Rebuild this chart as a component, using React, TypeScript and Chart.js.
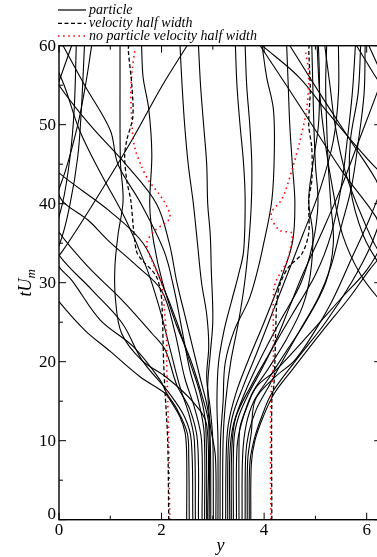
import React, { useEffect, useRef } from 'react';
import { Chart, registerables } from 'chart.js';

Chart.register(...registerables);

const PERIOD = 2 * Math.PI;
const X_MAJOR = [0, 2, 4, 6];
const X_MINOR = [1, 3, 5];
const Y_MAJOR = [0, 10, 20, 30, 40, 50, 60];
const Y_MINOR = [5, 15, 25, 35, 45, 55];
const LEGEND_LABELS = ['particle', 'velocity half width', 'no particle velocity half width'];

// particle trajectories: [tU_m, y]  (y unwrapped, periodic over 2π)
const pL1 = [[0,2.49],[8,2.49],[11,2.46],[13,2.36],[15,2.18],[16,2.07],[18.1,1.58],[21.3,1.0],[24,0.5],[27.6,0.0],[31,-0.4],[36,-0.75],[42,-0.95],[48,-1.1],[54,-1.2],[60,-1.25]];
const pL2 = [[0,2.54],[8,2.53],[11,2.5],[14,2.3],[16,2.1],[17.7,1.97],[21.9,1.45],[25.3,0.8],[30.3,0.25],[32,0.0],[36,-0.35],[42,-0.6],[48,-0.6],[54,-0.45],[60,-0.4]];
const pL3 = [[0,2.61],[10,2.58],[13,2.45],[16,2.15],[20.2,1.62],[24.9,1.23],[29.1,0.64],[33.5,0.0],[38,-0.35],[44,-0.7],[50,-0.9],[55,-1.0],[60,-1.1]];
const pL4 = [[0,2.72],[10,2.7],[14,2.55],[17,2.3],[21.5,2.07],[23.6,1.81],[27.8,1.23],[32,0.57],[36.4,0.0],[38.3,-0.1],[44,-0.75],[50,-1.35],[55,-1.85],[60,-2.36]];
const pL5 = [[0,2.79],[10,2.78],[14,2.65],[18,2.45],[24,2.25],[29,2.0],[32,1.54],[35.4,0.95],[37.9,0.57],[40.4,0.06],[43,-0.1],[48,-0.6],[54,-1.2],[60,-1.78]];
const pL6 = [[0,2.88],[12,2.86],[16,2.75],[20,2.55],[25,2.3],[30,2.0],[35,1.64],[39,1.0],[43.9,0.0],[47,-0.45],[52,-1.1],[56,-1.6],[60,-2.32]];
const pL7 = [[0,2.9],[12,2.88],[15,2.6],[18,2.1],[20.2,1.61],[23.6,1.22],[28,1.1],[32,1.09],[36,1.15],[40.4,1.25],[45,1.2],[50,1.19],[55,1.19],[60,1.19]];
const pL8 = [[0,2.93],[12,2.92],[15,2.82],[20,2.58],[25,2.27],[30,2.02],[35,1.85],[39.7,1.77],[46.3,1.81],[52,1.75],[56,1.64],[60,1.61]];
const pL9 = [[0,2.96],[10,2.95],[14,2.9],[18,2.75],[22,2.6],[26,2.45],[30,2.3],[35,2.15],[40,1.9],[45,1.3],[50,0.6],[55,0.0],[60,-0.48]];
const pE1 = [[0,2.84],[11,2.83],[15,2.72],[19,2.55],[24,2.4],[29,2.25],[34,2.05],[40,1.6],[45,1.15],[49.3,1.0],[55,0.5],[60,0.08]];
const pE3 = [[0,2.66],[10,2.64],[13,2.55],[17,2.35],[22,2.15],[27,1.95],[32,1.7],[38,1.3],[44,0.8],[49.3,0.4],[55,0.1],[60,-0.24]];
const pC1 = [[0,3.01],[10,3.0],[14,2.95],[18,2.88],[22,2.92],[26,2.88],[30,2.78],[35,2.7],[40,2.62],[45,2.52],[50,2.45],[55,2.4],[60,2.36]];
const pC2 = [[0,3.06],[8,3.05],[12,2.95],[16.8,2.9],[21,2.95],[25.3,3.0],[31.6,2.97],[36,2.95],[40,2.9],[45,2.88],[50,2.82],[55,2.76],[60,2.72]];
const pC3 = [[0,3.1],[10,3.1],[15,3.08],[19.8,3.11],[24,3.22],[27.8,3.37],[31,3.5],[34,3.6],[40.4,3.63],[45,3.6],[50,3.53],[55,3.47],[60,3.44]];
const pC4 = [[0,3.14],[10,3.15],[15,3.2],[19.8,3.24],[24,3.42],[27.8,3.7],[31,3.85],[34,3.96],[40.4,4.15],[47,4.2],[52,4.18],[56,4.05],[60,3.96]];
const pC5 = [[0,3.19],[10,3.2],[15,3.25],[20,3.35],[25,3.5],[30,3.62],[35,3.7],[40,3.75],[45,3.76],[50,3.72],[55,3.66],[60,3.63]];
const pC6 = [[0,3.25],[8,3.26],[12,3.3],[16,3.45],[20,3.68],[25,4.0],[30,4.3],[35,4.55],[40,4.6],[45,4.55],[50,4.5],[55,4.47],[60,4.44]];
const pC7 = [[0,3.33],[8,3.33],[12,3.4],[16,3.62],[20,3.9],[25,4.3],[30,4.72],[35,4.95],[40,5.05],[45,5.0],[50,4.97],[55,4.95],[60,4.93]];
const pE4 = [[0,3.29],[9,3.3],[13,3.38],[17,3.6],[21,3.85],[26,4.15],[31,4.45],[36,4.75],[42,5.1],[48,5.35],[54,5.45],[60,5.45]];
const pE2 = [[0,3.36],[9,3.37],[13,3.45],[17,3.75],[21,4.1],[26,4.55],[31,5.0],[36,5.3],[42,5.5],[48,5.62],[54,5.72],[60,5.78]];
const pR8 = [[0,3.4],[10,3.41],[13,3.5],[16,3.7],[19,3.95],[23,4.25],[27,4.5],[31,4.75],[36,5.1],[42,5.5],[48,5.85],[54,6.2],[60,6.53]];
const pR7 = [[0,3.46],[9,3.47],[12,3.55],[15.9,3.76],[19.2,4.09],[23,4.45],[27,4.75],[31,4.9],[36,4.95],[40.4,4.87],[45,4.95],[50,5.06],[55,5.08],[60,5.06]];
const pR6 = [[0,3.51],[9,3.51],[11.7,3.53],[14,3.65],[16.8,3.85],[19,4.24],[24,4.95],[28,5.5],[31.6,6.0],[35,6.3],[40,6.5],[46,6.65],[52,6.72],[60,6.78]];
const pR5 = [[0,3.57],[8,3.58],[12,3.65],[15,3.8],[18,4.1],[21,4.4],[25,4.8],[30,5.2],[35,5.35],[40,5.3],[45,5.25],[50,5.22],[55,5.2],[60,5.22]];
const pR4 = [[0,3.63],[8,3.64],[11,3.7],[14,3.85],[17,4.1],[20,4.35],[24,4.7],[28,5.05],[32,5.3],[37,5.5],[42,5.7],[48,5.84],[54,5.95],[60,5.97]];
const pR3 = [[0,3.67],[7.5,3.68],[11,3.75],[15.2,3.83],[18.1,4.22],[20.2,4.6],[24,5.0],[28,5.35],[33,5.7],[38,6.05],[44,6.4],[50,6.65],[55,6.8],[60,6.92]];
const pR2 = [[0,3.71],[7,3.72],[10,3.8],[13,3.95],[16,4.15],[20,4.6],[25,5.2],[30,5.7],[35,6.1],[40,6.35],[46,6.5],[52,6.58],[60,6.62]];
const pR1 = [[0,3.74],[7,3.75],[10,3.82],[13,3.98],[16,4.2],[19,4.55],[24,5.15],[28,5.65],[31.6,6.05],[34,6.35],[40,6.95],[48,7.7],[55,8.3],[60,8.78]];

const PARTICLES = [pL1,pL2,pL3,pL4,pL5,pL6,pL7,pL8,pL9,pE1,pE3,pC1,pC2,pC3,pC4,pC5,pC6,pC7,pE4,pE2,pR8,pR7,pR6,pR5,pR4,pR3,pR2,pR1];

// velocity half width (with particles)
const halfLeft = [[0,2.14],[10,2.12],[16,2.07],[20,2.04],[27,2.01],[29,1.98],[31,1.88],[33,1.6],[34,1.51],[37,1.45],[40.4,1.4],[43,1.32],[46,1.28],[48,1.32],[51,1.44],[55,1.42],[59.5,1.35],[60,1.36]];
const halfRight = [[0,4.15],[15,4.15],[17,4.19],[20,4.21],[27.8,4.25],[30,4.32],[32,4.48],[33.7,4.74],[36.3,4.87],[40.4,4.87],[43,4.93],[47,4.93],[50,4.87],[54.4,4.9],[59.5,4.87],[60,4.88]];
// velocity half width without particles
const noPartLeft = [[0,2.16],[10,2.14],[15,2.12],[20,2.1],[22.7,2.1],[27,2.05],[30,2.0],[32.8,1.81],[35,1.71],[36.6,1.87],[38.2,2.16],[40.3,2.05],[43,1.74],[44.7,1.61],[47,1.48],[49.3,1.43],[54.4,1.4],[57,1.43],[59.5,1.48]];
const noPartRight = [[0,4.13],[15,4.13],[20,4.18],[27.8,4.18],[30,4.22],[32.8,4.45],[35.4,4.54],[36.3,4.54],[36.6,4.31],[38,4.15],[39,4.15],[40.6,4.35],[44.2,4.54],[48,4.7],[52,4.83],[56.5,4.87],[59.5,4.8]];

const SERIF = '"Liberation Serif", "Times New Roman", serif';
const DASH = [4, 2.5];
const DOT = [1.5, 3.6];

function toPoints(arr: number[][], shift: number) {
  return arr.map(([t, x]) => ({ x: x + shift, y: t }));
}

const framePlugin = {
  id: 'frame',
  afterDraw(chart: any) {
    const { ctx, chartArea: a, scales } = chart;
    const xs = scales.x;
    const ys = scales.y;
    ctx.save();
    ctx.strokeStyle = '#000';
    ctx.lineWidth = 1.4;
    ctx.strokeRect(a.left, a.top, a.right - a.left, a.bottom - a.top);
    ctx.lineWidth = 1;
    ctx.beginPath();
    const tick = (vals: number[], len: number) => {
      for (const v of vals) {
        const px = xs.getPixelForValue(v);
        ctx.moveTo(px, a.bottom); ctx.lineTo(px, a.bottom - len);
        ctx.moveTo(px, a.top); ctx.lineTo(px, a.top + len);
      }
    };
    const ytick = (vals: number[], len: number) => {
      for (const v of vals) {
        const py = ys.getPixelForValue(v);
        ctx.moveTo(a.left, py); ctx.lineTo(a.left + len, py);
        ctx.moveTo(a.right, py); ctx.lineTo(a.right - len, py);
      }
    };
    tick(X_MAJOR, 7); tick(X_MINOR, 4);
    ytick(Y_MAJOR, 7); ytick(Y_MINOR, 4);
    ctx.stroke();

    // tick labels
    ctx.fillStyle = '#000';
    ctx.font = '17px ' + SERIF;
    ctx.textAlign = 'center';
    ctx.textBaseline = 'alphabetic';
    for (const v of X_MAJOR) {
      ctx.fillText(String(v), xs.getPixelForValue(v), a.bottom + 15);
    }
    ctx.textAlign = 'right';
    for (const v of Y_MAJOR) {
      const py = ys.getPixelForValue(v);
      ctx.fillText(String(v), a.left - 3, v === 0 ? py - 0.5 : py + 5.5);
    }

    // axis titles
    ctx.font = 'italic 18px ' + SERIF;
    ctx.textAlign = 'center';
    ctx.fillText('y', (a.left + a.right) / 2 + 0.5, 551);

    ctx.save();
    ctx.translate(31, (a.top + a.bottom) / 2);
    ctx.rotate(-Math.PI / 2);
    ctx.textAlign = 'left';
    ctx.font = 'italic 18px ' + SERIF;
    const main = 'tU';
    const mw = ctx.measureText(main).width;
    ctx.font = 'italic 13px ' + SERIF;
    const sw = ctx.measureText('m').width;
    const start = -(mw + sw) / 2;
    ctx.font = 'italic 18px ' + SERIF;
    ctx.fillText(main, start, 0);
    ctx.font = 'italic 13px ' + SERIF;
    ctx.fillText('m', start + mw, 4);
    ctx.restore();

    // legend
    const rows = [10, 23.3, 36];
    const styles = [
      { color: '#000', dash: [] as number[], w: 1.2 },
      { color: '#000', dash: DASH, w: 1.3 },
      { color: '#ff0000', dash: DOT, w: 1.6 },
    ];
    for (let i = 0; i < 3; i++) {
      ctx.beginPath();
      ctx.strokeStyle = styles[i].color;
      ctx.lineWidth = styles[i].w;
      ctx.setLineDash(styles[i].dash);
      ctx.moveTo(58, rows[i]);
      ctx.lineTo(86, rows[i]);
      ctx.stroke();
    }
    ctx.setLineDash([]);
    ctx.fillStyle = '#000';
    ctx.font = 'italic 14px ' + SERIF;
    ctx.textAlign = 'left';
    for (let i = 0; i < 3; i++) {
      ctx.fillText(LEGEND_LABELS[i], 89, rows[i] + 3.8);
    }
    ctx.restore();
  },
};

export default function App() {
  const ref = useRef<HTMLCanvasElement | null>(null);
  useEffect(() => {
    if (!ref.current) return;
    const datasets: any[] = [];
    const halfStyles = [
      { data: halfLeft, color: '#000', dash: DASH, w: 1.3 },
      { data: halfRight, color: '#000', dash: DASH, w: 1.3 },
      { data: noPartLeft, color: '#ff0000', dash: DOT, w: 1.6 },
      { data: noPartRight, color: '#ff0000', dash: DOT, w: 1.6 },
    ];
    for (const h of halfStyles) {
      datasets.push({
        data: toPoints(h.data, 0),
        showLine: true,
        borderColor: h.color,
        borderDash: h.dash,
        borderWidth: h.w,
        pointRadius: 0,
        tension: 0.3,
      });
    }
    for (const p of PARTICLES) {
      const xs = p.map((d) => d[1]);
      const shifts = [0];
      if (Math.min(...xs) < 0) shifts.push(PERIOD);
      if (Math.max(...xs) > PERIOD) shifts.push(-PERIOD);
      for (const s of shifts) {
        datasets.push({
          data: toPoints(p, s),
          showLine: true,
          borderColor: '#000',
          borderWidth: 1.1,
          pointRadius: 0,
          tension: 0.35,
        });
      }
    }
    const chart = new Chart(ref.current, {
      type: 'scatter',
      data: { datasets },
      options: {
        responsive: false,
        animation: false,
        devicePixelRatio: 1,
        layout: { padding: { top: 45.7, right: 3.8, bottom: 0, left: 0 } },
        elements: { line: { capBezierPoints: false } },
        plugins: { legend: { display: false }, tooltip: { enabled: false }, title: { display: false } },
        scales: {
          x: {
            type: 'linear',
            min: 0,
            max: PERIOD,
            grid: { display: false },
            border: { display: false },
            ticks: { display: false },
            afterFit: (s: any) => { s.height = 37.3; },
          },
          y: {
            type: 'linear',
            min: 0,
            max: 60,
            grid: { display: false },
            border: { display: false },
            ticks: { display: false },
            afterFit: (s: any) => { s.width = 59; },
          },
        },
      } as any,
      plugins: [framePlugin],
    });
    return () => chart.destroy();
  }, []);
  return (
    <div style={{ position: 'absolute', left: 0, top: 0, width: 377, height: 557, overflow: 'hidden', background: '#fff' }}>
      <canvas ref={ref} width={385} height={557} style={{ width: 385, height: 557, display: 'block' }} />
    </div>
  );
}
